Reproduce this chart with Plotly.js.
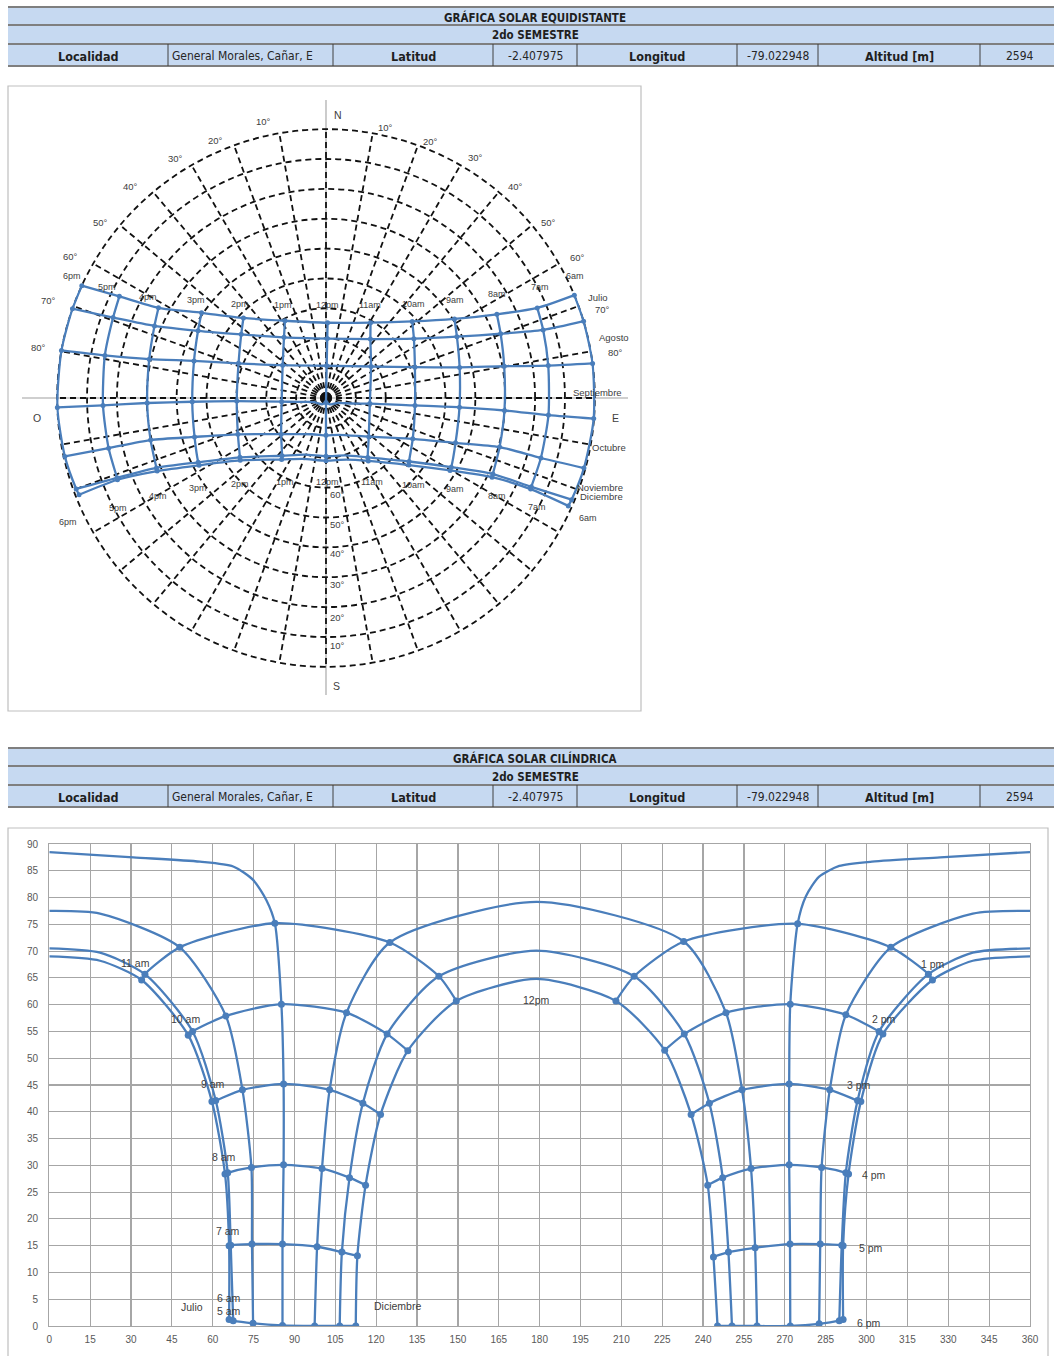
<!DOCTYPE html>
<html>
<head>
<meta charset="utf-8">
<script src="https://cdn.plot.ly/plotly-3.0.1.min.js"></script>
<style>
  html, body { margin: 0; padding: 0; background: #fff; }
  #chart { width: 1054px; height: 1356px; }
</style>
</head>
<body>
<div id="chart"></div>
<script>
// ---- Sun-path data, General Morales (Cañar) - 2nd semester ----
// Hour points 6am..6pm: azimuth (deg) and solar altitude (deg)
const horas = ['6am', '7am', '8am', '9am', '10am', '11am', '12pm', '1pm', '2pm', '3pm', '4pm', '5pm', '6pm'];
const fechas = ['Junio', 'Julio', 'Agosto', 'Septiembre', 'Octubre', 'Noviembre', 'Diciembre'];

const azJun  = [66.0, 66.0, 64.5, 59.7, 51.0, 33.9, 0, 324.2, 306.0, 297.9, 293.4, 291.4, 291.4];
const altJun = [1.2, 15.0, 28.4, 41.9, 54.3, 64.6, 69.0, 64.6, 54.5, 41.9, 28.4, 15.0, 1.2];
const azJul  = [67.5, 66.6, 65.5, 61.1, 52.6, 35.1, 0, 322.7, 304.6, 296.7, 292.4, 290.9, 290.0];
const altJul = [1.0, 15.1, 28.6, 42.1, 55.0, 65.7, 70.5, 65.7, 55.0, 42.1, 28.6, 15.1, 1.0];
const azAgo  = [74.8, 74.4, 74.2, 70.9, 64.8, 47.9, 0, 308.9, 292.4, 286.5, 283.5, 283.0, 282.6];
const altAgo = [0.5, 15.3, 29.6, 44.1, 57.9, 70.7, 77.5, 70.7, 58.1, 44.1, 29.6, 15.3, 0.4];
const azSep  = [85.6, 85.6, 86.0, 86.0, 85.2, 82.8, 0, 274.7, 272.0, 271.6, 271.6, 271.9, 272.0];
const altSep = [0.1, 15.3, 30.1, 45.2, 60.1, 75.2, 88.5, 75.1, 60.1, 45.2, 30.1, 15.3, 0.0];
const azOct  = [97.4, 98.3, 100.1, 102.9, 109.1, 125.0, 178.8, 232.9, 248.4, 254.3, 257.6, 259.1, 259.8];
const altOct = [0.0, 14.8, 29.4, 44.1, 58.5, 71.6, 79.2, 71.8, 58.5, 44.1, 29.4, 14.6, 0.0];
const azNov  = [106.6, 107.4, 110.2, 115.1, 124.0, 143.0, 178.8, 214.7, 233.1, 242.3, 247.2, 249.3, 250.6];
const altNov = [0.0, 13.8, 27.7, 41.6, 54.5, 65.3, 70.1, 65.3, 54.5, 41.6, 27.7, 13.8, 0.0];
const azDic  = [112.5, 113.1, 116.1, 121.6, 131.6, 149.4, 178.8, 208.0, 225.9, 235.6, 241.7, 243.8, 245.3];
const altDic = [0.0, 13.1, 26.3, 39.5, 51.4, 60.7, 64.8, 60.7, 51.5, 39.5, 26.3, 12.9, 0.0];

// Midday stretch of the paths that pass north of the zenith:
// points between 11am and noon, then noon again at 360° and on towards 1pm
const azJunMedAM = [18.6], altJunMedAM = [68.2];
const azJunMedPM = [360, 339.0], altJunMedPM = [69.0, 68.2];
const azJulMedAM = [18.6], altJulMedAM = [69.7];
const azJulMedPM = [360, 339.0], altJulMedPM = [70.5, 69.7];
const azAgoMedAM = [18.6], altAgoMedAM = [77.0];
const azAgoMedPM = [360, 339.0], altAgoMedPM = [77.5, 77.0];
const azSepMedAM = [79.7, 74.8, 67.5, 55.3, 30.8], altSepMedAM = [79.5, 83.3, 85.8, 86.7, 87.5];
const azSepMedPM = [360, 327.0, 302.0, 290.0, 282.6, 277.7], altSepMedPM = [88.5, 87.5, 86.7, 85.9, 83.9, 80.2];

// Header tables
const titulos = ['GRÁFICA SOLAR EQUIDISTANTE', 'GRÁFICA SOLAR CILÍNDRICA'];
const semestre = '2do SEMESTRE';
const campos = ['Localidad', 'Latitud', 'Longitud', 'Altitud [m]'];
const valores = ['General Morales, Cañar, E', '-2.407975', '-79.022948', '2594'];

// Compass / scale labels of the equidistant chart
const rumbos = ['N', 'S', 'O', 'E'];
const gradosAz = ['10°', '20°', '30°', '40°', '50°', '60°', '70°', '80°'];
const gradosAlt = ['60°', '50°', '40°', '30°', '20°', '10°'];
const mesesEtiqueta = ['Julio', 'Agosto', 'Septiembre', 'Octubre', 'Noviembre', 'Diciembre'];

// ---- helpers ----
const W = 1054, H = 1356;
const fx = x => x / W;
const fy = y => 1 - y / H;
const AZUL = '#4a7ebb';
const FONT = 'Liberation Sans, Arial, sans-serif';
const NARROW = 'Liberation Sans Narrow, DejaVu Sans Condensed, Arial Narrow, sans-serif';

const curvas = [
  { name: fechas[0], az: azJun, alt: altJun, azAM: azJunMedAM, altAM: altJunMedAM, azPM: azJunMedPM, altPM: altJunMedPM },
  { name: fechas[1], az: azJul, alt: altJul, azAM: azJulMedAM, altAM: altJulMedAM, azPM: azJulMedPM, altPM: altJulMedPM },
  { name: fechas[2], az: azAgo, alt: altAgo, azAM: azAgoMedAM, altAM: altAgoMedAM, azPM: azAgoMedPM, altPM: altAgoMedPM },
  { name: fechas[3], az: azSep, alt: altSep, azAM: azSepMedAM, altAM: altSepMedAM, azPM: azSepMedPM, altPM: altSepMedPM },
  { name: fechas[4], az: azOct, alt: altOct, azAM: [], altAM: [], azPM: [], altPM: [] },
  { name: fechas[5], az: azNov, alt: altNov, azAM: [], altAM: [], azPM: [], altPM: [] },
  { name: fechas[6], az: azDic, alt: altDic, azAM: [], altAM: [], azPM: [], altPM: [] }
];
const NOON = horas.indexOf('12pm');

const traces = [];
const zen = arr => arr.map(a => 90 - a);   // equidistant projection: zenith distance

// ---- equidistant (polar) chart ----
curvas.forEach(c => {
  let th, al;
  if (c.azPM.length) {
    th = c.az.slice(0, NOON).concat(c.azAM, [c.az[NOON]], c.azPM.slice(1), c.az.slice(NOON + 1));
    al = c.alt.slice(0, NOON).concat(c.altAM, [c.alt[NOON]], c.altPM.slice(1), c.alt.slice(NOON + 1));
  } else { th = c.az; al = c.alt; }
  traces.push({
    type: 'scatterpolar', subplot: 'polar', mode: 'lines', name: c.name,
    theta: th, r: zen(al),
    line: { color: AZUL, width: 2.3, shape: 'spline', smoothing: 0.7 },
    hoverinfo: 'skip'
  });
});
horas.forEach((h, i) => {
  traces.push({
    type: 'scatterpolar', subplot: 'polar', mode: 'lines+markers', name: h,
    theta: curvas.map(c => c.az[i]), r: zen(curvas.map(c => c.alt[i])),
    line: { color: AZUL, width: 2.3, shape: 'spline', smoothing: 0.7 },
    marker: { color: AZUL, size: 5 },
    hoverinfo: 'skip'
  });
});

// ---- cylindrical chart ----
curvas.forEach(c => {
  const ln = { color: AZUL, width: 2.3, shape: 'spline', smoothing: 0.7 };
  if (c.azPM.length) {
    traces.push({
      type: 'scatter', mode: 'lines', name: c.name, xaxis: 'x', yaxis: 'y', line: ln, hoverinfo: 'skip',
      x: c.az.slice(0, NOON).concat(c.azAM, [c.az[NOON]]),
      y: c.alt.slice(0, NOON).concat(c.altAM, [c.alt[NOON]])
    });
    traces.push({
      type: 'scatter', mode: 'lines', name: c.name, xaxis: 'x', yaxis: 'y', line: ln, hoverinfo: 'skip',
      x: c.azPM.concat(c.az.slice(NOON + 1)),
      y: c.altPM.concat(c.alt.slice(NOON + 1))
    });
  } else {
    traces.push({
      type: 'scatter', mode: 'lines', name: c.name, xaxis: 'x', yaxis: 'y', line: ln, hoverinfo: 'skip',
      x: c.az, y: c.alt
    });
  }
});
horas.forEach((h, i) => {
  if (i === NOON) return;
  traces.push({
    type: 'scatter', mode: 'lines+markers', name: h, xaxis: 'x', yaxis: 'y', hoverinfo: 'skip',
    x: curvas.map(c => c.az[i]), y: curvas.map(c => c.alt[i]),
    line: { color: AZUL, width: 2.3, shape: 'spline', smoothing: 0.7 },
    marker: { color: AZUL, size: 7 }
  });
});

// ---- shapes: header tables, frames, polar reference axes ----
const shapes = [];
const annotations = [];
const cols = [8, 168, 333, 493, 577, 737, 818, 980, 1054];

const txt = (x, y, t, font, xanchor) => annotations.push({
  xref: 'paper', yref: 'paper', x: fx(x), y: fy(y), text: t, showarrow: false,
  xanchor: xanchor || 'center', yanchor: 'middle', font: font
});

function tabla(y0, titulo) {
  const rows = [y0, y0 + 18, y0 + 37, y0 + 59];
  shapes.push({ type: 'rect', xref: 'paper', yref: 'paper', x0: fx(8), x1: fx(1054), y0: fy(rows[0]), y1: fy(rows[3]),
    fillcolor: '#c6d9f1', line: { width: 0 }, layer: 'below' });
  rows.forEach(r => shapes.push({ type: 'line', xref: 'paper', yref: 'paper', x0: fx(8), x1: fx(1054), y0: fy(r), y1: fy(r),
    line: { color: '#7f7f7f', width: 2 } }));
  cols.slice(1, -1).forEach(c => {
    shapes.push({ type: 'line', xref: 'paper', yref: 'paper', x0: fx(c), x1: fx(c), y0: fy(rows[2]), y1: fy(rows[3]),
      line: { color: '#404040', width: 1 } });
  });
  const head = { family: NARROW, size: 11.5, color: '#1f1f1f' };
  txt(535, (rows[0] + rows[1]) / 2 + 1, '<b>' + titulo + '</b>', head);
  txt(535, (rows[1] + rows[2]) / 2 + 1, '<b>' + semestre + '</b>', head);
  const ym = (rows[2] + rows[3]) / 2 + 1;
  campos.forEach((t, k) => {
    const a = cols[2 * k], b = cols[2 * k + 1];
    txt((a + b) / 2, ym, '<b>' + t + '</b>', { family: NARROW, size: 12.5, color: '#1f1f1f' });
  });
  valores.forEach((t, k) => {
    const a = cols[2 * k + 1], b = cols[2 * k + 2];
    if (k === 0) txt(a + 2, ym, t, { family: NARROW, size: 12, color: '#262626' }, 'left');
    else txt((a + b) / 2 + (k === 3 ? 3 : 0), ym, t, { family: NARROW, size: 12, color: '#262626' });
  });
}
tabla(7, titulos[0]);
tabla(748, titulos[1]);

// chart frames
shapes.push({ type: 'rect', xref: 'paper', yref: 'paper', x0: fx(8), x1: fx(641), y0: fy(711), y1: fy(86),
  line: { color: '#bfbfbf', width: 1.2 }, fillcolor: 'rgba(0,0,0,0)', layer: 'below' });
shapes.push({ type: 'rect', xref: 'paper', yref: 'paper', x0: fx(8), x1: fx(1048), y0: fy(1362), y1: fy(828),
  line: { color: '#bfbfbf', width: 1.2 }, fillcolor: 'rgba(0,0,0,0)', layer: 'below' });
// N-S and O-E reference axes of the equidistant chart
shapes.push({ type: 'line', xref: 'paper', yref: 'paper', x0: fx(326), x1: fx(326), y0: fy(100), y1: fy(695),
  line: { color: '#bfbfbf', width: 1.6 }, layer: 'below' });
shapes.push({ type: 'line', xref: 'paper', yref: 'paper', x0: fx(22), x1: fx(628), y0: fy(398), y1: fy(398),
  line: { color: '#bfbfbf', width: 1.6 }, layer: 'below' });

// ---- text of the equidistant chart ----
const lab = (x, y, t, size, anchor) => txt(x, y, t, { family: FONT, size: size || 9.5, color: '#404040' }, anchor);
[[338, 115], [336, 686], [37, 418], [615, 418]].forEach((p, k) => lab(p[0], p[1], rumbos[k], 10.5));
const azIzq = [[263, 122], [215, 140], [175, 158], [130, 186], [100, 222], [70, 256], [48, 300], [38, 347]];
const azDer = [[385, 127], [430, 141], [475, 157], [515, 186], [548, 222], [577, 258], [602, 310], [615, 352]];
gradosAz.forEach((t, k) => { lab(azIzq[k][0], azIzq[k][1], t); lab(azDer[k][0], azDer[k][1], t); });
const altPos = [[337, 495], [337, 524], [337, 554], [337, 585], [337, 617], [337, 645]];
gradosAlt.forEach((t, k) => lab(altPos[k][0], altPos[k][1], t));
const horaArriba = [[72, 276], [107, 287], [148, 297], [196, 300], [240, 304], [283, 305], [327, 305], [370, 305], [413, 304], [455, 300], [497, 294], [540, 287], [575, 276]];
const horaAbajo = [[68, 522], [118, 508], [158, 496], [198, 488], [240, 484], [285, 482], [327, 482], [372, 482], [413, 485], [455, 489], [497, 496], [537, 507], [588, 518]];
const horasInv = horas.slice().reverse();
horasInv.forEach((t, k) => { lab(horaArriba[k][0], horaArriba[k][1], t, 9); lab(horaAbajo[k][0], horaAbajo[k][1], t, 9); });
const mesPos = [[586, 298], [597, 337], [571, 393], [590, 447], [575, 487], [578, 497]];
mesesEtiqueta.forEach((t, k) => lab(mesPos[k][0], mesPos[k][1], t, 9.5, 'left'));

// ---- text of the cylindrical chart ----
const cyl = (x, y, t) => annotations.push({ xref: 'x', yref: 'y', x: x, y: y, text: t, showarrow: false,
  xanchor: 'center', yanchor: 'middle', font: { family: FONT, size: 10.5, color: '#404040' } });
cyl(31.5, 67.8, '11 am');
cyl(50.0, 57.4, '10 am');
cyl(60.1, 45.2, '9 am');
cyl(64.1, 31.5, '8 am');
cyl(65.6, 17.8, '7 am');
cyl(66.0, 5.3, '6 am');
cyl(65.8, 2.8, '5 am');
cyl(52.5, 3.6, 'Julio');
cyl(128.0, 3.7, 'Diciembre');
cyl(178.7, 60.9, '12pm');
cyl(324.4, 67.6, '1 pm');
cyl(306.4, 57.3, '2 pm');
cyl(297.3, 45.0, '3 pm');
cyl(302.8, 28.2, '4 pm');
cyl(301.6, 14.5, '5 pm');
cyl(301.0, 0.5, '6 pm');

const grid = '6px,4px';
const layout = {
  width: W, height: H,
  margin: { l: 0, r: 0, t: 0, b: 0 },
  paper_bgcolor: '#ffffff', plot_bgcolor: 'rgba(0,0,0,0)',
  showlegend: false, hovermode: false,
  polar: {
    domain: { x: [fx(56), fx(596)], y: [fy(668), fy(128)] },
    bgcolor: 'rgba(0,0,0,0)',
    radialaxis: {
      range: [0, 90.4], tickvals: [10, 20, 30, 40, 50, 60, 70, 80, 90],
      showticklabels: false, ticks: '', showline: false,
      gridcolor: '#111111', gridwidth: 1.8, griddash: grid
    },
    angularaxis: {
      rotation: 270, direction: 'counterclockwise',
      tickmode: 'linear', tick0: 0, dtick: 10,
      showticklabels: false, ticks: '', showline: false,
      gridcolor: '#111111', gridwidth: 1.8, griddash: grid
    }
  },
  xaxis: {
    domain: [fx(49.3), fx(1030)], anchor: 'y', range: [0, 360],
    tickmode: 'linear', tick0: 0, dtick: 15,
    showgrid: true, gridcolor: '#a6a6a6', gridwidth: 1.2,
    showline: true, mirror: true, linecolor: '#a6a6a6', linewidth: 1.2,
    zeroline: false, ticks: '', ticklabelstandoff: 4,
    tickfont: { family: FONT, size: 10, color: '#595959' }
  },
  yaxis: {
    domain: [fy(1326), fy(844)], anchor: 'x', range: [0, 90],
    tickmode: 'linear', tick0: 0, dtick: 5,
    showgrid: true, gridcolor: '#a6a6a6', gridwidth: 1.2,
    showline: true, mirror: true, linecolor: '#a6a6a6', linewidth: 1.2,
    zeroline: false, ticks: '', ticklabelstandoff: 8,
    tickfont: { family: FONT, size: 10, color: '#595959' }
  },
  shapes: shapes,
  annotations: annotations
};

Plotly.newPlot('chart', traces, layout, { staticPlot: true, displayModeBar: false });
</script>
</body>
</html>
